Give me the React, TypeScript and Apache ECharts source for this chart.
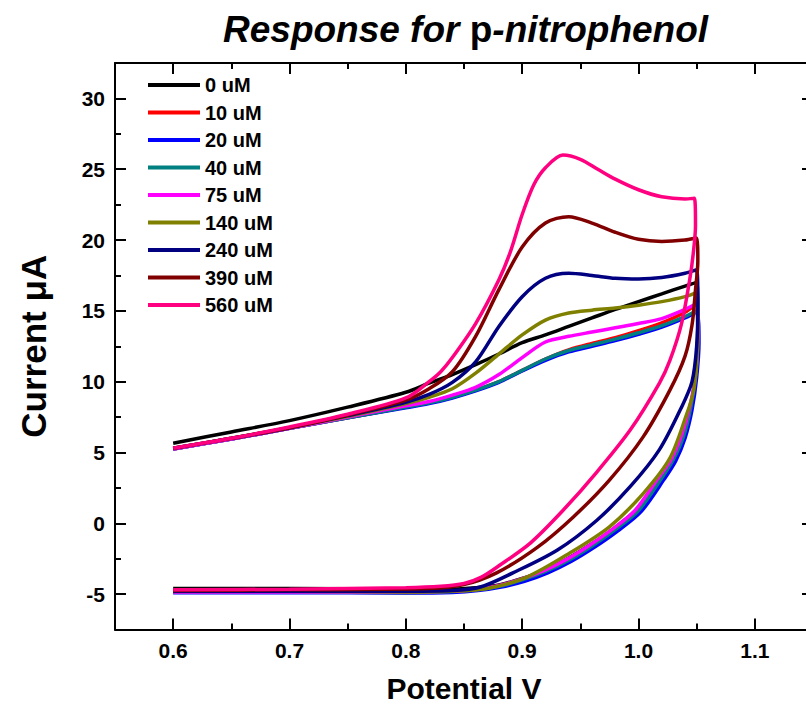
import React, { useEffect, useRef } from "react";
import * as echarts from "echarts";

type Pt = [number, number];

const legendLabels = ["0 uM", "10 uM", "20 uM", "40 uM", "75 uM", "140 uM", "240 uM", "390 uM", "560 uM"];
const seriesColors = ["#000000", "#FF0000", "#0000FF", "#008080", "#FF00FF", "#808000", "#000080", "#800000", "#FF0080"];

const cv0: Pt[] = [
  [0.6, 5.65], [0.65, 6.45], [0.7, 7.25], [0.75, 8.2], [0.8, 9.25], [0.82, 9.9], [0.84, 10.5], [0.86, 11.2],
  [0.88, 11.95], [0.9, 12.75], [0.92, 13.3], [0.94, 13.9], [0.96, 14.5], [0.98, 15.1], [1.0, 15.65], [1.02, 16.2],
  [1.04, 16.75], [1.05, 17.0], [1.051, 14.5], [1.05, 11.5], [1.047, 9.0], [1.042, 6.8], [1.033, 5.0], [1.02, 3.4],
  [1.0, 1.1], [0.98, -0.3], [0.96, -1.45], [0.94, -2.45], [0.92, -3.3], [0.9, -3.9], [0.88, -4.35], [0.86, -4.55],
  [0.84, -4.65], [0.8, -4.65], [0.7, -4.6], [0.6, -4.6],
];
const cv10: Pt[] = [
  [0.6, 5.25], [0.65, 5.95], [0.7, 6.7], [0.75, 7.45], [0.8, 8.2], [0.82, 8.5], [0.84, 8.9], [0.86, 9.4],
  [0.88, 10.0], [0.9, 10.8], [0.92, 11.6], [0.94, 12.25], [0.96, 12.7], [0.98, 13.1], [1.0, 13.6], [1.02, 14.15],
  [1.04, 14.9], [1.05, 15.5], [1.051, 13.2], [1.049, 10.5], [1.045, 8.2], [1.038, 6.2], [1.029, 4.5], [1.019, 3.2],
  [0.999, 0.9], [0.979, -0.45], [0.959, -1.6], [0.939, -2.6], [0.919, -3.4], [0.899, -4.0], [0.879, -4.45],
  [0.859, -4.7], [0.84, -4.82], [0.8, -4.88], [0.7, -4.85], [0.6, -4.85],
];
const cv20: Pt[] = [
  [0.6, 5.25], [0.65, 5.95], [0.7, 6.7], [0.75, 7.45], [0.8, 8.15], [0.82, 8.45], [0.84, 8.85], [0.86, 9.35],
  [0.88, 9.95], [0.9, 10.75], [0.92, 11.5], [0.94, 12.1], [0.96, 12.5], [0.98, 12.9], [1.0, 13.35], [1.02, 13.85],
  [1.04, 14.5], [1.05, 14.9], [1.052, 12.8], [1.05, 10.3], [1.046, 8.0], [1.04, 6.0], [1.032, 4.4], [1.022, 3.1],
  [1.002, 0.8], [0.982, -0.55], [0.962, -1.7], [0.942, -2.7], [0.922, -3.5], [0.902, -4.1], [0.882, -4.5],
  [0.862, -4.75], [0.84, -4.88], [0.8, -4.92], [0.7, -4.9], [0.6, -4.9],
];
const cv40: Pt[] = [
  [0.6, 5.25], [0.65, 5.95], [0.7, 6.7], [0.75, 7.45], [0.8, 8.2], [0.82, 8.5], [0.84, 8.9], [0.86, 9.4],
  [0.88, 10.0], [0.9, 10.8], [0.92, 11.6], [0.94, 12.2], [0.96, 12.6], [0.98, 13.0], [1.0, 13.45], [1.02, 13.95],
  [1.04, 14.6], [1.05, 15.0], [1.051, 13.0], [1.049, 10.5], [1.045, 8.2], [1.039, 6.2], [1.03, 4.5], [1.02, 3.2],
  [1.0, 0.9], [0.98, -0.45], [0.96, -1.6], [0.94, -2.6], [0.92, -3.4], [0.9, -4.0], [0.88, -4.45], [0.86, -4.7],
  [0.84, -4.82], [0.8, -4.88], [0.7, -4.85], [0.6, -4.85],
];
const cv75: Pt[] = [
  [0.6, 5.25], [0.65, 5.95], [0.7, 6.7], [0.75, 7.5], [0.8, 8.3], [0.82, 8.6], [0.84, 9.05], [0.86, 9.6],
  [0.88, 10.5], [0.9, 11.7], [0.92, 12.8], [0.94, 13.2], [0.96, 13.5], [0.98, 13.8], [1.0, 14.1], [1.02, 14.45],
  [1.04, 15.1], [1.05, 15.5], [1.051, 13.2], [1.049, 10.5], [1.044, 8.2], [1.037, 6.2], [1.028, 4.5], [1.017, 3.2],
  [0.997, 0.9], [0.977, -0.45], [0.957, -1.6], [0.937, -2.6], [0.917, -3.4], [0.897, -4.0], [0.877, -4.45],
  [0.857, -4.7], [0.84, -4.8], [0.8, -4.85], [0.7, -4.85], [0.6, -4.85],
];
const cv140: Pt[] = [
  [0.6, 5.3], [0.65, 6.0], [0.7, 6.75], [0.75, 7.55], [0.8, 8.45], [0.82, 8.9], [0.84, 9.5], [0.86, 10.6],
  [0.88, 11.95], [0.9, 13.3], [0.92, 14.35], [0.94, 14.85], [0.96, 15.05], [0.98, 15.2], [1.0, 15.4], [1.02, 15.65],
  [1.04, 16.0], [1.05, 16.3], [1.051, 14.0], [1.05, 11.2], [1.047, 9.2], [1.041, 7.6], [1.027, 4.6], [1.004, 2.1],
  [0.975, -0.25], [0.941, -2.1], [0.904, -3.8], [0.87, -4.6], [0.84, -4.8], [0.8, -4.85], [0.7, -4.8], [0.6, -4.8],
];
const cv240: Pt[] = [
  [0.6, 5.3], [0.65, 6.0], [0.7, 6.75], [0.75, 7.6], [0.8, 8.55], [0.82, 9.1], [0.84, 9.95], [0.86, 11.4],
  [0.88, 13.9], [0.9, 16.0], [0.92, 17.3], [0.94, 17.65], [0.96, 17.5], [0.98, 17.3], [1.0, 17.25], [1.02, 17.35],
  [1.04, 17.65], [1.05, 17.9], [1.051, 15.5], [1.05, 12.5], [1.046, 10.0], [1.037, 8.2], [1.018, 5.2], [0.993, 2.6],
  [0.964, 0.2], [0.93, -1.9], [0.892, -3.5], [0.864, -4.5], [0.84, -4.75], [0.8, -4.8], [0.7, -4.8], [0.6, -4.8],
];
const cv390: Pt[] = [
  [0.6, 5.3], [0.65, 6.0], [0.7, 6.75], [0.75, 7.65], [0.8, 8.7], [0.82, 9.5], [0.84, 10.7], [0.86, 13.2],
  [0.88, 16.5], [0.9, 19.5], [0.92, 21.2], [0.94, 21.65], [0.96, 21.2], [0.98, 20.55], [1.0, 20.05], [1.02, 19.9],
  [1.04, 20.0], [1.05, 20.15], [1.051, 18.5], [1.049, 16.5], [1.046, 14.0], [1.04, 11.8], [1.027, 9.4], [1.004, 6.1],
  [0.975, 3.05], [0.944, 0.45], [0.913, -1.7], [0.878, -3.5], [0.849, -4.35], [0.82, -4.6], [0.7, -4.7], [0.6, -4.75],
];
const cv560: Pt[] = [
  [0.6, 5.3], [0.65, 6.0], [0.7, 6.8], [0.75, 7.7], [0.8, 8.85], [0.82, 10.0], [0.83, 10.7], [0.84, 11.7],
  [0.86, 14.1], [0.88, 17.2], [0.89, 19.2], [0.9, 21.8], [0.91, 23.9], [0.92, 25.1], [0.935, 26.0], [0.95, 25.7],
  [0.965, 25.0], [0.98, 24.3], [1.0, 23.55], [1.02, 23.05], [1.04, 22.9], [1.048, 22.95], [1.049, 21.0], [1.047, 19.0],
  [1.044, 17.2], [1.037, 14.1], [1.027, 11.5], [1.018, 9.9], [0.993, 6.6], [0.964, 3.6], [0.935, 0.9],
  [0.907, -1.4], [0.88, -3.0], [0.865, -3.8], [0.85, -4.25], [0.83, -4.45], [0.8, -4.55], [0.7, -4.65], [0.6, -4.7],
];

const seriesData: Pt[][] = [cv0, cv10, cv20, cv40, cv75, cv140, cv240, cv390, cv560];

const FONT = "Arial, 'Liberation Sans', sans-serif";

export default function App() {
  const ref = useRef<HTMLDivElement>(null);
  useEffect(() => {
    if (!ref.current) return;
    const chart = echarts.init(ref.current, undefined, { renderer: "svg" });
    const axisLine = { show: true, onZero: false, lineStyle: { color: "#000", width: 2 } };
    const axisTick = { show: true, inside: true, length: 11, lineStyle: { color: "#000", width: 2 } };
    const minorTick = { show: true, splitNumber: 2, length: 6, lineStyle: { color: "#000", width: 2 } };
    const labelStyle = { fontSize: 21, fontWeight: "bold" as const, color: "#000", fontFamily: FONT };
    chart.setOption({
      animation: false,
      backgroundColor: "#fff",
      title: {
        text: "{i|Response for }{n|p}{i|-nitrophenol}",
        left: 218,
        top: 6,
        textStyle: {
          fontSize: 37,
          fontWeight: "bold",
          fontFamily: FONT,
          color: "#000",
          rich: {
            i: { fontSize: 37, fontWeight: "bold", fontStyle: "italic", fontFamily: FONT, color: "#000" },
            n: { fontSize: 37, fontWeight: "bold", fontStyle: "normal", fontFamily: FONT, color: "#000" },
          },
        },
      },
      legend: {
        data: legendLabels,
        orient: "vertical",
        left: 148,
        top: 75,
        padding: 0,
        icon: "rect",
        itemWidth: 52,
        itemHeight: 4,
        itemGap: 7.5,
        textStyle: { fontSize: 20, fontWeight: "bold", color: "#000", fontFamily: FONT, lineHeight: 20 },
      },
      grid: { left: 115, top: 63, width: 698, height: 566.5, containLabel: false },
      xAxis: [
        {
          type: "value",
          min: 0.55,
          max: 1.15,
          splitNumber: 6,
          position: "bottom",
          axisLine,
          axisTick,
          minorTick,
          splitLine: { show: false },
          axisLabel: {
            ...labelStyle,
            margin: 10,
            showMinLabel: false,
            showMaxLabel: false,
            formatter: (v: number) => v.toFixed(1),
          },
          name: "Potential V",
          nameLocation: "middle",
          nameGap: 44,
          nameTextStyle: { fontSize: 30, fontWeight: "bold", color: "#000", fontFamily: FONT },
        },
        {
          type: "value",
          min: 0.55,
          max: 1.15,
          splitNumber: 6,
          position: "top",
          axisLine,
          axisTick,
          minorTick,
          splitLine: { show: false },
          axisLabel: { show: false },
        },
      ],
      yAxis: [
        {
          type: "value",
          min: -7.5,
          max: 32.5,
          splitNumber: 8,
          position: "left",
          axisLine,
          axisTick,
          minorTick,
          splitLine: { show: false },
          axisLabel: { ...labelStyle, margin: 10, showMinLabel: false, showMaxLabel: false },
          name: "Current μA",
          nameLocation: "middle",
          nameGap: 64,
          nameTextStyle: { fontSize: 35, fontWeight: "bold", color: "#000", fontFamily: FONT },
        },
        {
          type: "value",
          min: -7.5,
          max: 32.5,
          splitNumber: 8,
          position: "right",
          axisLine,
          axisTick,
          minorTick,
          splitLine: { show: false },
          axisLabel: { show: false },
        },
      ],
      series: seriesData.map((d, i) => ({
        name: legendLabels[i],
        type: "line",
        xAxisIndex: 0,
        yAxisIndex: 0,
        data: d,
        showSymbol: false,
        smooth: 0.3,
        color: seriesColors[i],
        lineStyle: { width: 3.5, color: seriesColors[i] },
      })),
    });
    return () => chart.dispose();
  }, []);
  return (
    <div style={{ position: "fixed", left: 0, top: 0, width: 806, height: 711, overflow: "hidden", background: "#fff" }}>
      <div ref={ref} style={{ width: 830, height: 711 }} />
    </div>
  );
}
